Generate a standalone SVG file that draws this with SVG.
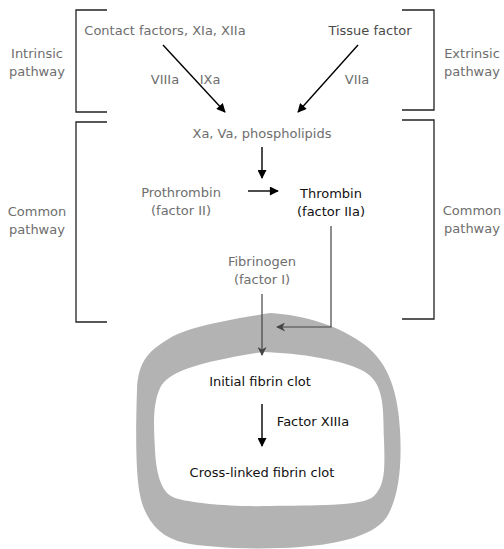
<svg xmlns="http://www.w3.org/2000/svg" width="504" height="549" viewBox="0 0 504 549">
  <defs>
    <marker id="ah" viewBox="0 0 10 10" refX="9" refY="5" markerWidth="10" markerHeight="9" markerUnits="userSpaceOnUse" orient="auto">
      <path d="M0,0 L10,5 L0,10 z" fill="#000"/>
    </marker>
    <marker id="ahg" viewBox="0 0 10 10" refX="9" refY="5" markerWidth="10" markerHeight="9" markerUnits="userSpaceOnUse" orient="auto">
      <path d="M0,0 L10,5 L0,10 L3,5 z" fill="#444"/>
    </marker>
    <style>
      text { font-family: "DejaVu Sans", "Liberation Sans", sans-serif; font-size: 13px; text-anchor: middle; }
      .g { fill: #6e6e6e; }
      .d { fill: #4a4a4a; }
      .k { fill: #111; }
      .br { fill: none; stroke: #222; stroke-width: 1.3; }
      .ar { fill: none; stroke: #000; stroke-width: 1.4; }
      .ln { fill: none; stroke: #444; stroke-width: 1.2; }
    </style>
  </defs>

  <rect width="504" height="549" fill="#fff"/>

  <!-- clot ring -->
  <g id="clot-ring">
    <path fill="#b3b3b3" fill-rule="evenodd" d="M270,313 C305,315 340,326 365,345 S398,395 400,430 S399,495 388,515 S340,544 300,547 S210,548 185,543 S145,520 140,495 S136,420 137,390 S150,350 170,338 S240,318 270,313 Z M262,352 C300,353 345,360 365,372 S383,410 384,440 S385,485 374,496 S310,505 270,506 S190,503 175,498 S156,470 155,450 S152,405 160,388 S200,362 262,352 Z"/>
  </g>

  <!-- brackets -->
  <g id="brackets">
    <path class="br" d="M107,10 H76 V112 H107"/>
    <path class="br" d="M107,122 H76 V322 H107"/>
    <path class="br" d="M402,10 H434 V110 H402"/>
    <path class="br" d="M402,120 H434 V319 H402"/>
  </g>

  <!-- pathway labels -->
  <g id="intrinsic-label"><text class="g" x="37" y="58">Intrinsic</text><text class="g" x="37" y="76">pathway</text></g>
  <g id="extrinsic-label"><text class="g" x="472" y="58">Extrinsic</text><text class="g" x="472" y="76">pathway</text></g>
  <g id="common-label-left"><text class="g" x="37" y="216">Common</text><text class="g" x="37" y="234">pathway</text></g>
  <g id="common-label-right"><text class="g" x="472" y="215">Common</text><text class="g" x="472" y="233">pathway</text></g>

  <!-- nodes -->
  <g id="contact-factors"><text class="g" x="165" y="35">Contact factors, XIa, XIIa</text></g>
  <g id="tissue-factor"><text class="d" x="370" y="35">Tissue factor</text></g>
  <g id="xa-complex"><text class="g" x="262" y="138">Xa, Va, phospholipids</text></g>
  <g id="prothrombin"><text class="g" x="181" y="197">Prothrombin</text><text class="g" x="181" y="215">(factor II)</text></g>
  <g id="thrombin"><text class="k" x="331" y="198">Thrombin</text><text class="k" x="331" y="216">(factor IIa)</text></g>
  <g id="fibrinogen"><text class="g" x="262" y="266">Fibrinogen</text><text class="g" x="262" y="284">(factor I)</text></g>
  <g id="initial-clot"><text class="k" x="260" y="386">Initial fibrin clot</text></g>
  <g id="crosslinked-clot"><text class="k" x="262" y="477">Cross-linked fibrin clot</text></g>

  <!-- connectors -->
  <g id="connectors">
    <line class="ar" x1="163" y1="45" x2="225" y2="112" marker-end="url(#ah)"/>
    <line class="ar" x1="358" y1="45" x2="298" y2="112" marker-end="url(#ah)"/>
    <line class="ar" x1="262" y1="147" x2="262" y2="178" marker-end="url(#ah)"/>
    <line class="ar" x1="248" y1="191" x2="278" y2="191" marker-end="url(#ah)"/>
    <path class="ln" d="M331,226 V327 H277" marker-end="url(#ahg)"/>
    <line class="ln" x1="262" y1="294" x2="262" y2="355" marker-end="url(#ahg)"/>
    <line class="ar" x1="262" y1="404" x2="262" y2="446" marker-end="url(#ah)"/>
    <text class="g" x="165" y="84">VIIIa</text>
    <text class="g" x="210" y="84">IXa</text>
    <text class="g" x="357" y="84">VIIa</text>
    <text class="k" x="313" y="426">Factor XIIIa</text>
  </g>
</svg>
